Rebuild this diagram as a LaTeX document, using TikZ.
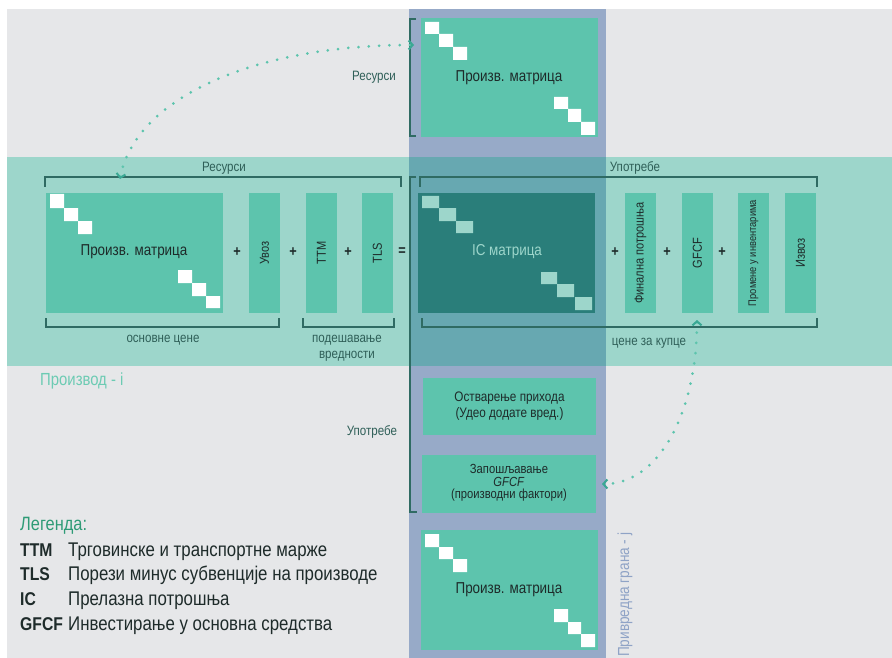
\documentclass[tikz,border=0pt]{standalone}
\usepackage{fontspec}
\setmainfont{Liberation Sans}[FakeStretch=0.85]
\usetikzlibrary{arrows.meta}
\definecolor{bgc}{HTML}{E6E7E9}
\definecolor{bandh}{HTML}{9DD6CB}
\definecolor{bandv}{HTML}{97AAC8}
\definecolor{bandx}{HTML}{67A8B1}
\definecolor{boxc}{HTML}{5DC4AD}
\definecolor{icc}{HTML}{2A7E7A}
\definecolor{brkc}{HTML}{2F6B63}
\definecolor{lblc}{HTML}{2F5F58}
\definecolor{txtc}{HTML}{1E2B2A}
\definecolor{legc}{HTML}{2E9B76}
\definecolor{prodc}{HTML}{6CCBB3}
\definecolor{vtxtc}{HTML}{8FA3C6}
\definecolor{chevc}{HTML}{3AA894}
\newcommand\fs[1]{\fontsize{#1}{#1}\selectfont}
\tikzset{
  mbox/.style={fill=boxc, inner sep=0pt, outer sep=0pt, anchor=north west},
  brk/.style={draw=brkc, line width=1.3pt},
  lbl/.style={text=lblc, font=\fs{13.6}, inner sep=0pt},
  boxtxt/.style={text=txtc, font=\fs{15.8}, inner sep=0pt},
  vtxt/.style={text=txtc, font=\fs{13}, inner sep=0pt, rotate=90},
  optxt/.style={text=txtc, font=\bfseries\fs{15}, inner sep=0pt},
  sq/.style={fill=white},
  icsq/.style={fill=bandh},
  legab/.style={text=txtc, font=\bfseries\fs{18.5}, inner sep=0pt, anchor=base west},
  legtx/.style={text=txtc, font=\fs{19.8}, inner sep=0pt, anchor=base west},
  dotarrow/.style={draw=boxc, line width=3pt, line cap=round, dash pattern=on 0pt off 10.3pt,
    {Straight Barb[length=4pt,width=9pt,line width=2pt,color=chevc]}-{Straight Barb[length=4pt,width=9pt,line width=2pt,color=chevc]}}
}
\begin{document}
\begin{tikzpicture}[x=1pt,y=-1pt]
\useasboundingbox (0,0) rectangle (892,658);
% backgrounds
\fill[white] (0,0) rectangle (892,658);
\fill[bgc] (7,9) rectangle (892,658);
\fill[bandh] (7,157) rectangle (892,366);
\fill[bandv] (409,9) rectangle (606,658);
\fill[bandx] (409,157) rectangle (606,366);

% top matrix
\node[mbox, minimum width=177pt, minimum height=119pt] (ptop) at (421,18) {};
\fill[sq] (425,22) rectangle (439,34) (439,34) rectangle (453,47) (453,47) rectangle (467,60);
\fill[sq] (554,97) rectangle (568,109) (568,109) rectangle (581,122) (581,122) rectangle (595,135);
\node[boxtxt] (ptoptx) at (509,78) {Произв. матрица};

% main row
\node[mbox, minimum width=177pt, minimum height=120pt] (pm) at (46,193) {};
\fill[sq] (50,194) rectangle (64,208) (64,208) rectangle (78,221) (78,221) rectangle (92,234);
\fill[sq] (178,270) rectangle (192,283) (192,283) rectangle (206,296) (206,296) rectangle (220,308);
\node[boxtxt] (pmtx) at (134,252) {Произв. матрица};

\node[mbox, minimum width=31pt, minimum height=120pt] (uvoz) at (249,193) {};
\node[vtxt] (uvoztx) at (uvoz.center) {Увоз};
\node[mbox, minimum width=31pt, minimum height=120pt] (ttm) at (306,193) {};
\node[vtxt] (ttmtx) at (ttm.center) {TTM};
\node[mbox, minimum width=31pt, minimum height=120pt] (tls) at (362,193) {};
\node[vtxt] (tlstx) at (tls.center) {TLS};
\node[optxt] (p1) at (237,252) {+};
\node[optxt] (p2) at (293,252) {+};
\node[optxt] (p3) at (348,252) {+};
\node[optxt] (eq) at (402,252) {=};

\node[mbox, fill=icc, minimum width=177pt, minimum height=120pt] (ic) at (418,193) {};
\fill[icsq] (422,196) rectangle (439,208) (439,208) rectangle (456,221) (456,221) rectangle (473,233);
\fill[icsq] (541,272) rectangle (557,284) (557,284) rectangle (574,297) (575,297) rectangle (592,310);
\node[boxtxt, text=bandh] (ictx) at (507,252) {IC матрица};

\node[optxt] (p4) at (615,252) {+};
\node[optxt] (p5) at (667,252) {+};
\node[optxt] (p6) at (722,252) {+};
\node[mbox, minimum width=31pt, minimum height=120pt] (fin) at (625,193) {};
\node[vtxt] (fintx) at (fin.center) {Финална потрошња};
\node[mbox, minimum width=31pt, minimum height=120pt] (gfcf) at (682,193) {};
\node[vtxt] (gfcftx) at (gfcf.center) {GFCF};
\node[mbox, minimum width=31pt, minimum height=120pt] (prom) at (738,193) {};
\node[vtxt, font=\fs{11}] (promtx) at (prom.center) {Промене у инвентарима};
\node[mbox, minimum width=31pt, minimum height=120pt] (izv) at (785,193) {};
\node[vtxt] (izvtx) at (izv.center) {Извоз};

% brackets main row
\draw[brk] (45,187) -- (45,177) -- (401,177) -- (401,187);
\node[lbl] (res1) at (224,168) {Ресурси};
\draw[brk] (420,187) -- (420,177) -- (817,177) -- (817,187);
\node[lbl] (upo1) at (635,168) {Употребе};
\draw[brk] (46,318) -- (46,327) -- (279,327) -- (279,318);
\node[lbl] (osn) at (163,340) {основне цене};
\draw[brk] (303,318) -- (303,327) -- (394,327) -- (394,318);
\node[lbl, align=center, font=\fontsize{13.6}{16}\selectfont] (pod) at (347,348) {подешавање\\вредности};
\draw[brk] (422,318) -- (422,327) -- (817,327) -- (817,318);
\node[lbl] (cen) at (649,343) {цене за купце};

% vertical brackets
\draw[brk] (416,19) -- (410,19) -- (410,136) -- (416,136);
\node[lbl] (res2) at (374,77) {Ресурси};
\draw[brk] (416,177) -- (410,177) -- (410,512) -- (417,512);
\node[lbl] (upo2) at (372,432) {Употребе};

\node[text=prodc, font=\fs{17.5}, inner sep=0pt, anchor=west] (prod) at (40,381) {Производ - i};

% lower boxes
\node[mbox, minimum width=173pt, minimum height=57pt] (ostv) at (423,378) {};
\node[text=txtc, font=\fontsize{13.8}{16}\selectfont, align=center, inner sep=0pt] (ostvtx) at (ostv.center) {Остварење прихода\\(Удео додате вред.)};
\node[mbox, minimum width=174pt, minimum height=58pt] (zap) at (422,455) {};
\node[text=txtc, font=\fontsize{13.2}{12.3}\selectfont, align=center, inner sep=0pt] (zaptx) at (509,483) {Запошљавање\\\textit{GFCF}\\(производни фактори)};

% bottom matrix
\node[mbox, minimum width=177pt, minimum height=120pt] (pbot) at (421,530) {};
\fill[sq] (425,534) rectangle (439,547) (439,547) rectangle (453,559) (453,559) rectangle (467,572);
\fill[sq] (554,609) rectangle (568,622) (568,622) rectangle (581,634) (581,634) rectangle (595,647);
\node[boxtxt] (pbottx) at (509,590) {Произв. матрица};

\node[text=vtxtc, font=\fs{16}, rotate=90, inner sep=0pt, anchor=west] (grana) at (625,657) {Привредна грана - j};

% legend
\node[text=legc, font=\fs{19.3}, inner sep=0pt, anchor=base west] (leg) at (20,530) {Легенда:};
\node[legab] (l1a) at (20,556) {TTM};
\node[legtx] (l1b) at (68,556) {Трговинске и транспортне марже};
\node[legab] (l2a) at (20,580) {TLS};
\node[legtx] (l2b) at (68,580) {Порези минус субвенције на производе};
\node[legab] (l3a) at (20,605) {IC};
\node[legtx] (l3b) at (68,605) {Прелазна потрошња};
\node[legab] (l4a) at (20,630) {GFCF};
\node[legtx] (l4b) at (68,630) {Инвестирање у основна средства};

% dotted arrows
\coordinate (a1s) at (120,179);
\coordinate (a1e) at (414,45);
\draw[dotarrow] (a1s) .. controls (135,100) and (250,45) .. (a1e);
\coordinate (a2s) at (697,320);
\coordinate (a2e) at (602,484);
\draw[dotarrow] (a2s) .. controls (697,410) and (660,484) .. (a2e);
\end{tikzpicture}
\end{document}
